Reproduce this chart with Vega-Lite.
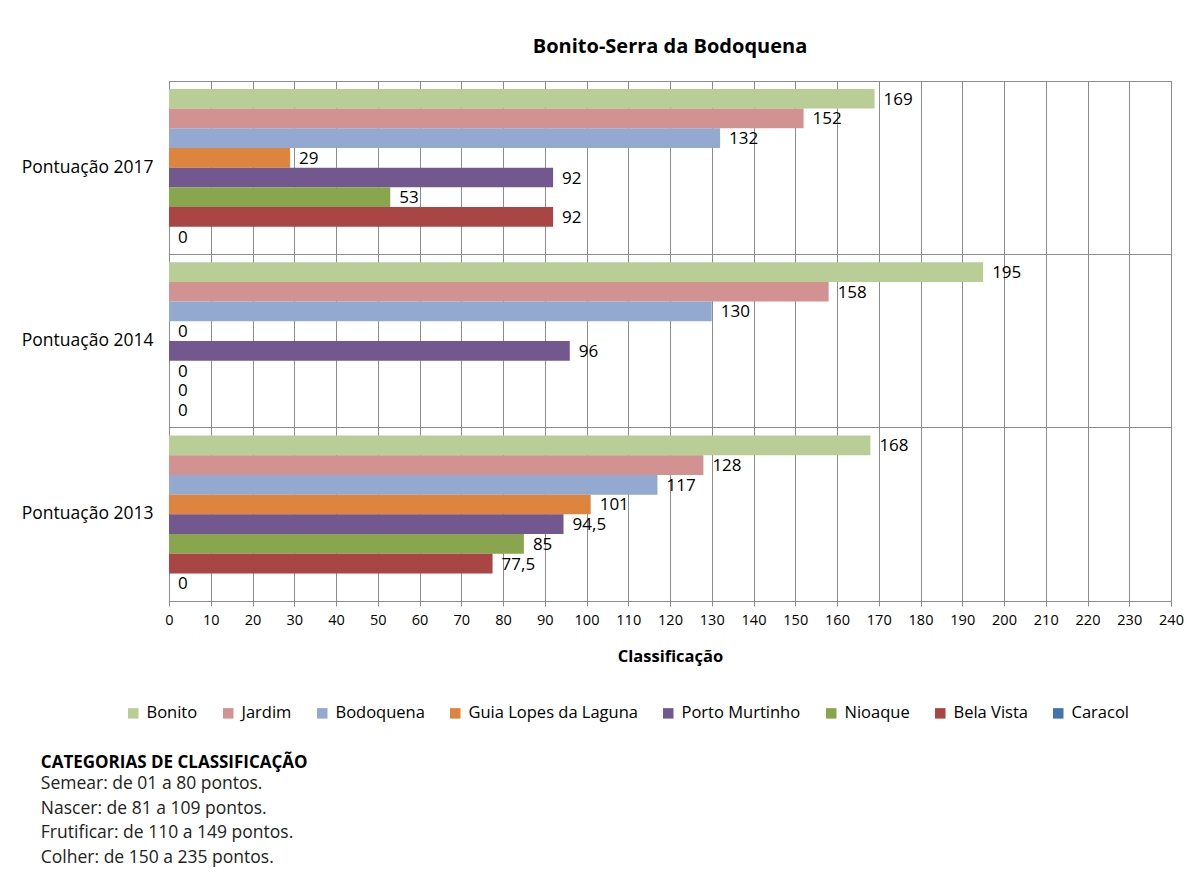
{
  "$schema": "https://vega.github.io/schema/vega-lite/v6.json",
  "padding": {"left": 20, "top": 36, "right": 10, "bottom": 5},
  "background": "white",
  "config": {
    "font": "Open Sans",
    "locale": {"number": {"decimal": ",", "thousands": ".", "grouping": [3], "currency": ["R$", ""]}},
    "view": {"stroke": "#8c8c8c"}
  },
  "title": {
    "text": "CATEGORIAS DE CLASSIFICAÇÃO",
    "subtitle": ["Semear: de 01 a 80 pontos.", "Nascer: de 81 a 109 pontos.", "Frutificar: de 110 a 149 pontos.", "Colher: de 150 a 235 pontos."],
    "orient": "bottom",
    "anchor": "start",
    "frame": "bounds",
    "fontSize": 17,
    "fontWeight": "bold",
    "color": "#000000",
    "subtitleFontSize": 17.5,
    "subtitleColor": "#222222",
    "subtitleLineHeight": 24.5,
    "subtitlePadding": 3,
    "dx": 20,
    "offset": 33
  },
  "vconcat": [
    {
      "title": {"text": "Bonito-Serra da Bodoquena", "fontSize": 20, "fontWeight": "bold", "anchor": "middle", "frame": "group", "offset": 24, "color": "#000000"},
      "width": 1002,
      "height": 520,
      "data": {"values": [
        {"ano": "Pontuação 2017", "municipio": "Bonito", "valor": 169},
        {"ano": "Pontuação 2017", "municipio": "Jardim", "valor": 152},
        {"ano": "Pontuação 2017", "municipio": "Bodoquena", "valor": 132},
        {"ano": "Pontuação 2017", "municipio": "Guia Lopes da Laguna", "valor": 29},
        {"ano": "Pontuação 2017", "municipio": "Porto Murtinho", "valor": 92},
        {"ano": "Pontuação 2017", "municipio": "Nioaque", "valor": 53},
        {"ano": "Pontuação 2017", "municipio": "Bela Vista", "valor": 92},
        {"ano": "Pontuação 2017", "municipio": "Caracol", "valor": 0},
        {"ano": "Pontuação 2014", "municipio": "Bonito", "valor": 195},
        {"ano": "Pontuação 2014", "municipio": "Jardim", "valor": 158},
        {"ano": "Pontuação 2014", "municipio": "Bodoquena", "valor": 130},
        {"ano": "Pontuação 2014", "municipio": "Guia Lopes da Laguna", "valor": 0},
        {"ano": "Pontuação 2014", "municipio": "Porto Murtinho", "valor": 96},
        {"ano": "Pontuação 2014", "municipio": "Nioaque", "valor": 0},
        {"ano": "Pontuação 2014", "municipio": "Bela Vista", "valor": 0},
        {"ano": "Pontuação 2014", "municipio": "Caracol", "valor": 0},
        {"ano": "Pontuação 2013", "municipio": "Bonito", "valor": 168},
        {"ano": "Pontuação 2013", "municipio": "Jardim", "valor": 128},
        {"ano": "Pontuação 2013", "municipio": "Bodoquena", "valor": 117},
        {"ano": "Pontuação 2013", "municipio": "Guia Lopes da Laguna", "valor": 101},
        {"ano": "Pontuação 2013", "municipio": "Porto Murtinho", "valor": 94.5},
        {"ano": "Pontuação 2013", "municipio": "Nioaque", "valor": 85},
        {"ano": "Pontuação 2013", "municipio": "Bela Vista", "valor": 77.5},
        {"ano": "Pontuação 2013", "municipio": "Caracol", "valor": 0}
      ]},
      "encoding": {
        "y": {
          "field": "ano", "type": "nominal",
          "sort": ["Pontuação 2017", "Pontuação 2014", "Pontuação 2013"],
          "scale": {"paddingInner": 0, "paddingOuter": 0},
          "axis": {"title": null, "bandPosition": 0, "labelOffset": 0, "grid": true, "gridColor": "#8c8c8c", "gridOpacity": 1, "ticks": false, "domain": false, "labelFontSize": 17.5, "labelPadding": 16, "labelColor": "#000000", "labelLimit": 300}
        },
        "yOffset": {
          "field": "municipio", "type": "nominal",
          "sort": ["Bonito", "Jardim", "Bodoquena", "Guia Lopes da Laguna", "Porto Murtinho", "Nioaque", "Bela Vista", "Caracol"],
          "scale": {"paddingInner": 0, "paddingOuter": 0.4}
        },
        "x": {
          "field": "valor", "type": "quantitative",
          "scale": {"domain": [0, 240], "nice": false},
          "axis": {"title": "Classificação", "titleFontSize": 16.5, "titleFontWeight": "bold", "titleColor": "#000000", "titlePadding": 22,
            "values": [0,10,20,30,40,50,60,70,80,90,100,110,120,130,140,150,160,170,180,190,200,210,220,230,240],
            "grid": true, "gridColor": "#8c8c8c", "gridOpacity": 1, "tickColor": "#8c8c8c", "tickSize": 5, "domainColor": "#8c8c8c",
            "labelFontSize": 14.5, "labelPadding": 7, "labelColor": "#000000", "labelFlush": false}
        }
      },
      "layer": [
        {
          "mark": {"type": "bar"},
          "encoding": {
            "color": {
              "field": "municipio", "type": "nominal",
              "scale": {
                "domain": ["Bonito", "Jardim", "Bodoquena", "Guia Lopes da Laguna", "Porto Murtinho", "Nioaque", "Bela Vista", "Caracol"],
                "range": ["#B9CE96", "#D39292", "#94A9D0", "#DD853F", "#735890", "#89A54E", "#A94544", "#4573AE"]
              },
              "legend": {"orient": "none", "legendX": -44, "legendY": 624, "direction": "horizontal", "title": null, "symbolType": "square", "symbolSize": 110, "symbolStrokeWidth": 0, "labelFontSize": 16.5, "labelColor": "#000000", "labelOffset": 5, "labelLimit": 400, "columnPadding": 22}
            }
          }
        },
        {
          "mark": {"type": "text", "align": "left", "baseline": "middle", "dx": 9, "dy": 1, "fontSize": 17, "color": "#000000"},
          "encoding": {
            "text": {"field": "valor", "type": "quantitative", "format": ".1~f"}
          }
        }
      ]
    }
  ]
}
